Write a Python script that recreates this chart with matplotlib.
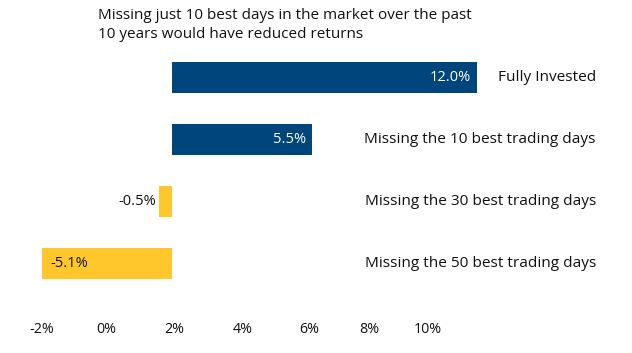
import matplotlib
matplotlib.use("Agg")
import matplotlib.pyplot as plt
import matplotlib.transforms as mtransforms

plt.rcParams['font.family'] = ['Open Sans', 'DejaVu Sans']

# data
categories = ["Fully Invested", "Missing the 10 best trading days",
              "Missing the 30 best trading days", "Missing the 50 best trading days"]
returns = [12.0, 5.5, -0.5, -5.1]
# tick labels as drawn in the source (they sit slightly off the bar scale)
tick_pos = [-5.13, -2.57, 0.10, 2.77, 5.39, 7.76, 10.06]
tick_labels = ["-2%", "0%", "2%", "4%", "6%", "8%", "10%"]
title = "Missing just 10 best days in the market over the past\n10 years would have reduced returns"

blue = "#00457C"
yellow = "#FFC72C"

fig = plt.figure(figsize=(6.32, 3.53), dpi=100)
ax = fig.add_axes([0, 41 / 353, 1, 312 / 353])

ypos = list(range(len(categories)))
colors = [blue if v >= 0 else yellow for v in returns]
ax.barh(ypos, returns, height=0.5, color=colors)

ax.set_xlim(-172 / 25.4, (632 - 172) / 25.4)
ax.set_ylim(3.78, -1.25)

for y, v, c in zip(ypos, returns, categories):
    lab = f"{v:.1f}%"
    if v >= 0:
        ax.annotate(lab, (v, y), xytext=(-4, 0), textcoords="offset points",
                    ha="right", va="center", color="white", fontsize=10.5)
    elif v > -1:
        ax.annotate(lab, (v, y), xytext=(-2, 0), textcoords="offset points",
                    ha="right", va="center", color="#111111", fontsize=10.5)
    else:
        ax.annotate(lab, (v, y), xytext=(6, 0), textcoords="offset points",
                    ha="left", va="center", color="#111111", fontsize=10.5)
    trans = mtransforms.blended_transform_factory(ax.transAxes, ax.transData)
    ax.text(596 / 632, y, c, transform=trans, ha="right", va="center",
            fontsize=11.1, color="#111111")

ax.set_xticks(tick_pos)
ax.set_xticklabels(tick_labels, fontsize=10.3, color="#111111")
ax.tick_params(axis="x", length=0, pad=7)
ax.set_yticks([])
for s in ax.spines.values():
    s.set_visible(False)

fig.text(98 / 632, 1 - 8 / 353, title, ha="left", va="top", fontsize=11,
         color="#111111", linespacing=1.35)

fig.savefig("out.png", dpi=100)
